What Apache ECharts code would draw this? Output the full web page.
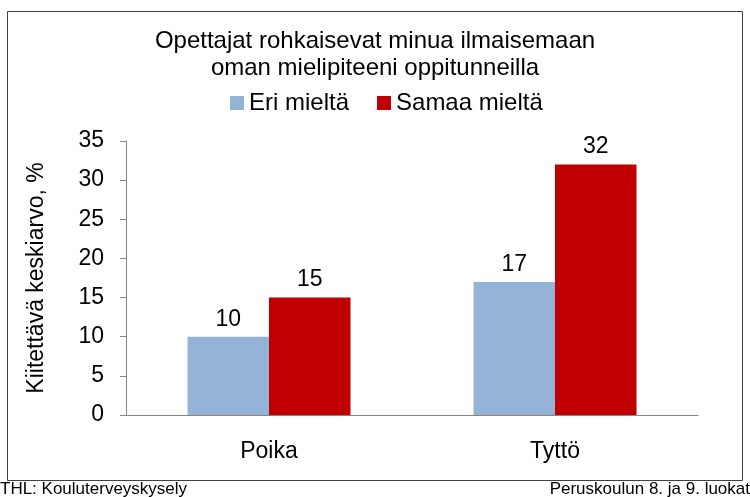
<!DOCTYPE html>
<html>
<head>
<meta charset="utf-8">
<script src="https://cdn.jsdelivr.net/npm/echarts@6/dist/echarts.min.js"></script>
<style>
  html, body { margin: 0; padding: 0; background: #fff; }
  #dom { width: 750px; height: 497px; }
</style>
</head>
<body>
<div id="dom"></div>
<script>
// categories and values
const categories = ['Poika', 'Tyttö']
const eriMielta = [10, 17]
const samaaMielta = [15, 32]
const seriesNames = ['Eri mieltä', 'Samaa mieltä']

const font = '"Liberation Sans", Arial, sans-serif'

const option = {
    animation: false,
    textStyle: { fontFamily: font },
    title: {
        left: 'center',
        top: 23,
        text: 'Opettajat rohkaisevat minua ilmaisemaan\noman mielipiteeni oppitunneilla',
        textStyle: { fontSize: 24, fontWeight: 'normal', color: '#000', lineHeight: 27, fontFamily: font }
    },
    legend: {
        top: 86,
        left: 225,
        itemWidth: 14,
        itemHeight: 14,
        itemGap: 28,
        icon: 'rect',
        textStyle: { fontSize: 24, color: '#000', fontFamily: font },
        data: seriesNames
    },
    grid: {
        left: 126,
        right: 52,
        top: 141,
        bottom: 82
    },
    xAxis: {
        type: 'category',
        data: categories,
        axisLine: { lineStyle: { color: '#868686' } },
        axisTick: { show: false },
        axisLabel: { fontSize: 23, color: '#000', margin: 25, fontFamily: font }
    },
    yAxis: {
        type: 'value',
        min: 0,
        max: 35,
        interval: 5,
        name: 'Kiitettävä keskiarvo, %',
        nameLocation: 'middle',
        nameGap: 78,
        nameTextStyle: { fontSize: 23, color: '#000', fontFamily: font },
        axisLine: { show: true, lineStyle: { color: '#868686' } },
        axisTick: { show: true, length: 6, lineStyle: { color: '#868686' } },
        axisLabel: { fontSize: 23, color: '#000', margin: 22, fontFamily: font },
        splitLine: { show: false }
    },
    series: [
        {
            name: seriesNames[0],
            type: 'bar',
            data: eriMielta,
            barGap: '0%',
            barCategoryGap: '43%',
            itemStyle: { color: '#95B3D7' },
            label: { show: true, position: 'top', fontSize: 23, color: '#000', distance: 6, fontFamily: font }
        },
        {
            name: seriesNames[1],
            type: 'bar',
            data: samaaMielta,
            barGap: '0%',
            barCategoryGap: '43%',
            itemStyle: { color: '#C00000' },
            label: { show: true, position: 'top', fontSize: 23, color: '#000', distance: 6, fontFamily: font }
        }
    ],
    graphic: [
        {
            type: 'rect',
            shape: { x: 7.5, y: 11.5, width: 735, height: 469 },
            style: { fill: 'none', stroke: '#404040', lineWidth: 1 },
            silent: true
        },
        {
            type: 'text',
            left: 0,
            top: 481,
            style: { text: 'THL: Kouluterveyskysely', fontSize: 17, fill: '#000', fontFamily: font }
        },
        {
            type: 'text',
            right: 0,
            top: 481,
            style: { text: 'Peruskoulun 8. ja 9. luokat', fontSize: 17, fill: '#000', fontFamily: font }
        }
    ]
}

let myChart = echarts.init(document.getElementById('dom'))
myChart.setOption(option, true)
</script>
</body>
</html>
